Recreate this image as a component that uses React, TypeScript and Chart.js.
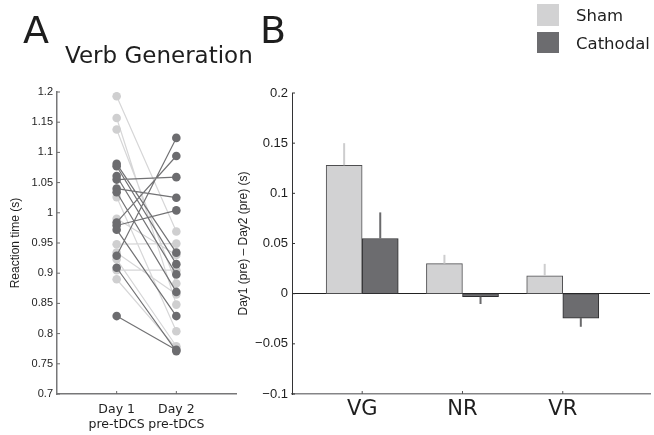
import React, { useEffect, useRef } from 'react';
import { Chart, registerables } from 'chart.js';
Chart.register(...registerables);

// ---------- Panel A data (reaction times, s) ----------
const sessionLabels = [['Day 1', 'pre-tDCS'], ['Day 2', 'pre-tDCS']];
const shamDay1 = [1.193, 1.157, 1.138, 1.026, 0.99, 0.948, 0.934, 0.923, 0.905, 0.89];
const shamDay2 = [0.969, 0.848, 0.883, 0.804, 0.93, 0.949, 0.865, 0.779, 0.905, 0.776];
const cathDay1 = [0.929, 0.984, 1.055, 1.04, 0.979, 1.081, 1.077, 1.061, 1.034, 0.972, 0.909, 0.829];
const cathDay2 = [1.124, 1.094, 1.059, 1.025, 1.004, 0.934, 0.915, 0.898, 0.869, 0.829, 0.771, 0.773];

// ---------- Panel B data (Day1 - Day2, s) ----------
const tasks = ['VG', 'NR', 'VR'];
const shamMean = [0.128, 0.03, 0.0177];
const shamErr = [0.022, 0.0087, 0.012];
const cathMean = [0.055, -0.003, -0.0243];
const cathErr = [0.026, 0.0073, 0.0087];

const SHAM = '#d2d2d3';
const CATH = '#6c6c6f';
const TXT = '#1e1e1e';

const fmt = (v: any) => String(+Number(v).toFixed(2)).replace('-', '\u2212');

const innerTicks = {
  id: 'innerTicks',
  afterDatasetsDraw(chart: any, _args: any, opts: any) {
    const { ctx } = chart;
    const len = opts.length || 4;
    ctx.save();
    ['x', 'y'].forEach((id) => {
      const s = chart.scales[id];
      const o = opts[id];
      if (!s || !o) return;
      ctx.strokeStyle = o.color;
      ctx.lineWidth = o.width;
      s.ticks.forEach((t: any) => {
        const p = s.getPixelForValue(t.value);
        ctx.beginPath();
        if (s.isHorizontal()) {
          ctx.moveTo(p, s.top);
          ctx.lineTo(p, s.top - len);
        } else {
          ctx.moveTo(s.right, p);
          ctx.lineTo(s.right + len, p);
        }
        ctx.stroke();
      });
    });
    ctx.restore();
  },
};

const errorBars = {
  id: 'errorBars',
  afterDatasetsDraw(chart: any) {
    const { ctx } = chart;
    const y = chart.scales.y;
    ctx.save();
    chart.data.datasets.forEach((ds: any, i: number) => {
      const meta = chart.getDatasetMeta(i);
      meta.data.forEach((bar: any, j: number) => {
        const m = ds.data[j].y;
        const end = m + Math.sign(m) * ds.errors[j];
        ctx.strokeStyle = ds.errorColor;
        ctx.lineWidth = 2;
        ctx.beginPath();
        ctx.moveTo(bar.x, y.getPixelForValue(m));
        ctx.lineTo(bar.x, y.getPixelForValue(end));
        ctx.stroke();
      });
    });
    ctx.restore();
  },
};

const pairs = (d1: number[], d2: number[]) =>
  d1.flatMap((v, i) => [
    { x: 1, y: v },
    { x: 2, y: d2[i] },
    { x: 1.5, y: null },
  ]);

export default function App() {
  const refA = useRef<HTMLCanvasElement>(null);
  const refB = useRef<HTMLCanvasElement>(null);

  useEffect(() => {
    const chartA = new Chart(refA.current as HTMLCanvasElement, {
      type: 'line',
      data: {
        datasets: [
          {
            label: 'Cathodal',
            data: pairs(cathDay1, cathDay2) as any,
            borderColor: '#727274',
            borderWidth: 1.2,
            pointBackgroundColor: CATH,
            pointBorderColor: CATH,
            pointBorderWidth: 0,
            pointRadius: 4.3,
            spanGaps: false,
            order: 1,
          },
          {
            label: 'Sham',
            data: pairs(shamDay1, shamDay2) as any,
            borderColor: '#d6d6d7',
            borderWidth: 1.2,
            pointBackgroundColor: '#cfcfd0',
            pointBorderColor: '#cfcfd0',
            pointBorderWidth: 0,
            pointRadius: 4.3,
            spanGaps: false,
            order: 2,
          },
        ],
      },
      options: {
        animation: false,
        responsive: false,
        maintainAspectRatio: false,
        layout: { padding: { left: 0, top: 92, right: 9, bottom: 0 } },
        plugins: {
          legend: { display: false },
          tooltip: { enabled: false },
          innerTicks: { x: { color: '#6a6a6a', width: 1 }, y: { color: '#6a6a6a', width: 1 }, length: 3 },
        } as any,
        scales: {
          x: {
            type: 'linear',
            min: 0,
            max: 3,
            offset: false,
            afterBuildTicks: (s: any) => {
              s.ticks = [{ value: 1 }, { value: 2 }];
            },
            afterFit: (s: any) => {
              s.height = 41;
            },
            ticks: {
              callback: (_v: any, i: number) => sessionLabels[i],
              font: { family: 'DejaVu Sans', size: 12.5 },
              color: TXT,
              padding: 8,
              maxRotation: 0,
              autoSkip: false,
            },
            grid: { display: false, drawTicks: false },
            border: { color: '#777778', width: 1.5 },
          },
          y: {
            type: 'linear',
            min: 0.7,
            max: 1.2,
            afterFit: (s: any) => {
              s.width = 57;
            },
            ticks: {
              stepSize: 0.05,
              callback: fmt,
              font: { family: 'Liberation Sans', size: 11 },
              color: TXT,
              padding: 4,
            },
            grid: { display: false, drawTicks: false },
            border: { color: '#777778', width: 1.5 },
            title: {
              display: true,
              text: 'Reaction time (s)',
              font: { family: 'Liberation Sans', size: 12 },
              color: TXT,
              padding: { top: 8, bottom: 0 },
            },
          },
        },
      } as any,
      plugins: [innerTicks],
    });

    const chartB = new Chart(refB.current as HTMLCanvasElement, {
      type: 'bar',
      data: {
        datasets: [
          {
            label: 'Sham',
            data: tasks.map((_, i) => ({ x: i + 1 - 0.18, y: shamMean[i] })) as any,
            backgroundColor: SHAM,
            borderColor: '#4e4e50',
            borderWidth: 1,
            borderSkipped: false,
            barThickness: 36,
            grouped: false,
            errors: shamErr,
            errorColor: '#cdcdce',
          } as any,
          {
            label: 'Cathodal',
            data: tasks.map((_, i) => ({ x: i + 1 + 0.18, y: cathMean[i] })) as any,
            backgroundColor: CATH,
            borderColor: '#2e2e30',
            borderWidth: 1,
            borderSkipped: false,
            barThickness: 36,
            grouped: false,
            errors: cathErr,
            errorColor: '#6a6a6c',
          } as any,
        ],
      },
      options: {
        animation: false,
        responsive: false,
        maintainAspectRatio: false,
        layout: { padding: { left: 0, top: 93, right: 4, bottom: 0 } },
        plugins: {
          legend: { display: false },
          tooltip: { enabled: false },
          innerTicks: { x: { color: '#555', width: 1 }, y: { color: '#333', width: 1 }, length: 3 },
        } as any,
        scales: {
          x: {
            type: 'linear',
            min: 0.3,
            max: 3.87,
            offset: false,
            afterBuildTicks: (s: any) => {
              s.ticks = [{ value: 1 }, { value: 2 }, { value: 3 }];
            },
            afterFit: (s: any) => {
              s.height = 41;
            },
            ticks: {
              callback: (_v: any, i: number) => tasks[i],
              font: { family: 'DejaVu Sans', size: 21 },
              color: TXT,
              padding: 2.5,
              maxRotation: 0,
              autoSkip: false,
            },
            grid: { display: false, drawTicks: false },
            border: { color: '#858587', width: 1.5 },
          },
          y: {
            type: 'linear',
            min: -0.1,
            max: 0.2,
            afterFit: (s: any) => {
              s.width = 67;
            },
            ticks: {
              stepSize: 0.05,
              callback: fmt,
              font: { family: 'Liberation Sans', size: 13 },
              color: TXT,
              padding: 4,
            },
            grid: {
              display: true,
              drawTicks: false,
              color: (c: any) => (c.tick && Math.abs(c.tick.value) < 1e-9 ? '#222' : 'rgba(0,0,0,0)'),
              lineWidth: 1,
            },
            border: { color: '#333335', width: 1 },
            title: {
              display: true,
              text: 'Day1 (pre) \u2013 Day2 (pre) (s)',
              font: { family: 'Liberation Sans', size: 12 },
              color: TXT,
              padding: { top: 11, bottom: 0 },
            },
          },
        },
      } as any,
      plugins: [innerTicks, errorBars],
    });

    return () => {
      chartA.destroy();
      chartB.destroy();
    };
  }, []);

  const abs = (s: React.CSSProperties): React.CSSProperties => ({ position: 'absolute', whiteSpace: 'nowrap', ...s });

  return (
    <div
      style={{
        position: 'absolute',
        left: 0,
        top: 0,
        width: 654,
        height: 435,
        background: '#fff',
        overflow: 'hidden',
        fontFamily: '"DejaVu Sans", sans-serif',
        color: TXT,
      }}
    >
      <canvas ref={refA} width={245} height={435} style={abs({ left: 0, top: 0, display: 'block' })} />
      <canvas ref={refB} width={429} height={435} style={abs({ left: 225, top: 0, display: 'block' })} />
      <div style={abs({ left: 23, top: 11, fontSize: 38, lineHeight: '38px' })}>A</div>
      <div style={abs({ left: 65, top: 44, fontSize: 23, lineHeight: '23px' })}>Verb Generation</div>
      <div style={abs({ left: 260, top: 11, fontSize: 38, lineHeight: '38px' })}>B</div>
      <div style={abs({ left: 537, top: 4, width: 22, height: 22, background: SHAM })} />
      <div style={abs({ left: 537, top: 32, width: 22, height: 21, background: CATH })} />
      <div style={abs({ left: 576, top: 5, fontSize: 16.5, lineHeight: '22px' })}>Sham</div>
      <div style={abs({ left: 576, top: 32.6, fontSize: 16.5, lineHeight: '22px' })}>Cathodal</div>
    </div>
  );
}
